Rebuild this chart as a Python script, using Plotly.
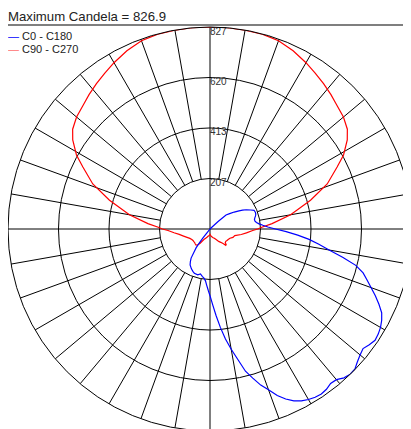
import plotly.graph_objects as go

# ---------------- data ----------------
max_candela = 826.9
ring_values = [206.7, 413.5, 620.2, 826.9]
ring_labels = ["207", "413", "620", "827"]
series_names = ["C0 - C180", "C90 - C270"]

# C0 half-plane (gamma from nadir, right side)
gamma_c0 = [0, 2, 4, 6, 8, 10, 12, 14, 16, 18, 20, 22, 24, 26, 28, 30, 32, 34, 36, 38,
            40, 42, 44, 46, 48, 50, 52, 54, 56, 58, 60, 62, 64, 66, 68, 70, 72, 74, 76,
            78, 80, 82, 84, 86, 88, 90, 92, 94, 96, 98, 100, 102, 104, 106, 108, 110,
            113, 115, 118, 120, 122, 125, 128, 131, 132.5, 134, 136, 150, 180]
cd_c0 = [273, 310, 355, 405, 455, 500, 545, 600, 635, 672, 700, 735, 762, 783, 797, 806,
         812, 815, 811, 802, 805, 820, 826, 825, 812, 802, 795, 806, 815, 812, 806, 796,
         782, 757, 730, 702, 676, 652, 615, 555, 495, 450, 408, 360, 312, 268, 237, 217,
         202, 192, 187, 186, 189, 194, 197, 198, 196, 184, 168, 154, 140, 121, 102, 87,
         45, 12, 0, 0, 0]

# C180 half-plane (gamma from nadir, left side)
gamma_c180 = [0, 1.5, 3.5, 5, 7, 9, 12, 15, 19.5, 22, 25, 29, 31, 33, 35, 36.5, 37.5,
              38, 38.5, 39, 45, 180]
cd_c180 = [273, 253, 229, 213, 203, 197, 188, 194, 192, 187, 180, 168, 156, 142, 112,
           95, 70, 48, 20, 0, 0, 0]

# C90 / C270 half-planes
gamma_c90 = [0, 5, 10, 15, 20, 25, 30, 35, 38, 41, 43, 44, 46, 48, 52, 56, 60, 65, 70,
             75, 80, 84, 88, 90, 92, 95, 100, 106, 111, 116, 119, 123, 126, 130, 135,
             138, 142, 146, 150, 155, 160, 165, 170, 175, 180]
cd_c90 = [22, 26, 30, 34, 38, 42, 50, 62, 68, 76, 85, 93, 92, 84, 82, 84, 86, 90, 100,
          105, 130, 150, 175, 195, 212, 255, 335, 428, 514, 579, 625, 670, 695, 713, 728,
          740, 755, 770, 786, 805, 820, 826, 826.5, 826.9, 826.9]
cd_c270 = [22, 25, 28, 31, 36, 42, 50, 72, 82, 87, 86, 86, 85, 84, 84, 84, 86, 91, 100,
           112, 128, 148, 172, 195, 212, 255, 335, 428, 514, 579, 625, 670, 695, 713, 728,
           740, 755, 770, 786, 805, 820, 826, 826.5, 826.9, 826.9]

# ---------------- build traces ----------------
blue_theta = [-g for g in reversed(gamma_c180)] + list(gamma_c0)
blue_r = list(reversed(cd_c180)) + list(cd_c0)
red_theta = [-g for g in reversed(gamma_c90)] + list(gamma_c90)
red_r = list(reversed(cd_c270)) + list(cd_c90)

# grid spokes (outside the first ring) every 10 degrees
spoke_r, spoke_t = [], []
for a in range(10, 360, 10):
    if a % 90 == 0:
        continue
    spoke_r += [ring_values[0], max_candela, None]
    spoke_t += [a, a, None]
# the two full diameters
axis_r = [max_candela, 0, max_candela, None, max_candela, 0, max_candela]
axis_t = [0, 0, 180, None, 90, 90, 270]

fig = go.Figure()
fig.add_trace(go.Scatterpolar(r=spoke_r, theta=spoke_t, mode="lines",
                              line=dict(color="black", width=1), hoverinfo="skip",
                              showlegend=False))
fig.add_trace(go.Scatterpolar(r=axis_r, theta=axis_t, mode="lines",
                              line=dict(color="black", width=1), hoverinfo="skip",
                              showlegend=False))
fig.add_trace(go.Scatterpolar(r=red_r, theta=red_theta, mode="lines",
                              name=series_names[1],
                              line=dict(color="#ff0000", width=1.2)))
fig.add_trace(go.Scatterpolar(r=blue_r, theta=blue_theta, mode="lines",
                              name=series_names[0],
                              line=dict(color="#0000ff", width=1.2)))
fig.add_trace(go.Scatterpolar(r=ring_values, theta=[180] * len(ring_values),
                              mode="text", text=ring_labels,
                              textposition="bottom right", cliponaxis=False,
                              textfont=dict(family="Arial, Liberation Sans", size=10,
                                            color="#333333"),
                              hoverinfo="skip", showlegend=False))

PLOT = 404
L, T = 0, 19
W, H = L + PLOT, T + PLOT

fig.update_layout(
    width=W, height=H,
    margin=dict(l=L, r=W - L - PLOT, t=T, b=H - T - PLOT, pad=0),
    paper_bgcolor="white",
    showlegend=False,
    font=dict(family="Arial, Liberation Sans", color="#222222"),
    title=dict(text="Maximum Candela = " + str(max_candela),
               x=0, xref="container", xanchor="left",
               y=1 - 8 / H, yref="container", yanchor="middle",
               font=dict(size=13.2, color="#222222")),
    polar=dict(
        bgcolor="white",
        domain=dict(x=[0, 1], y=[0, 1]),
        angularaxis=dict(rotation=-90, direction="counterclockwise",
                         showgrid=False, showticklabels=False, ticks="",
                         showline=True, linecolor="black", linewidth=1),
        radialaxis=dict(range=[0, max_candela], tickvals=ring_values,
                        showticklabels=False, ticks="", showline=False,
                        gridcolor="black", gridwidth=1),
    ),
    shapes=[dict(type="line", xref="paper", yref="paper",
                 x0=0, x1=1.05, y0=1 + 2 / PLOT, y1=1 + 2 / PLOT,
                 line=dict(color="#555555", width=1.5))],
    annotations=[
        dict(text="<span style='color:#0000ff'>\u2014</span> " + series_names[0],
             xref="paper", yref="paper", x=-2 / PLOT, y=1 - (27.5 - T) / PLOT,
             xanchor="left", yanchor="middle", showarrow=False,
             font=dict(size=11, color="#222222")),
        dict(text="<span style='color:#ff7070'>\u2014</span> " + series_names[1],
             xref="paper", yref="paper", x=-2 / PLOT, y=1 - (40.5 - T) / PLOT,
             xanchor="left", yanchor="middle", showarrow=False,
             font=dict(size=11, color="#222222")),
    ],
)

fig.write_html("out.html")
